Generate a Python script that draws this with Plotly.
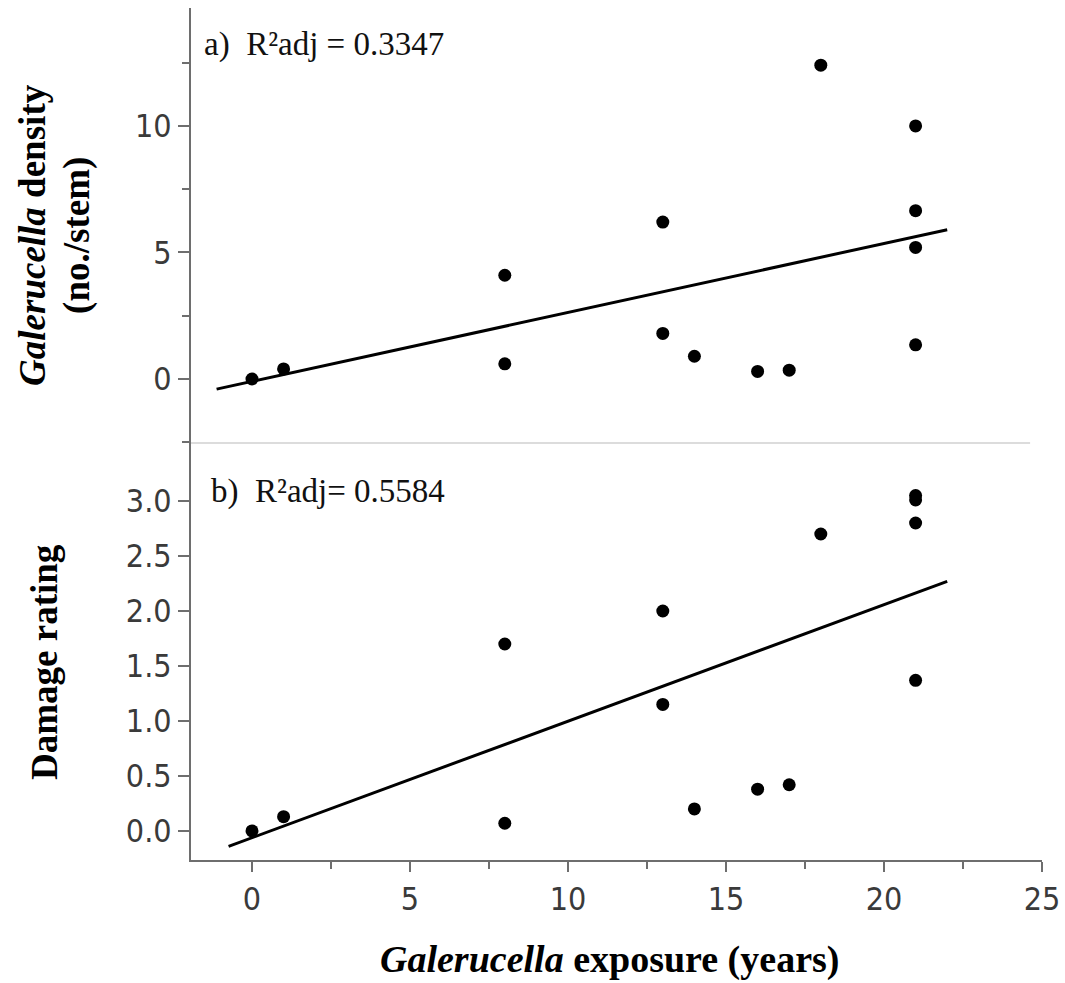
import plotly.graph_objects as go

# Data
exposure = [0, 1, 8, 8, 13, 13, 14, 16, 17, 18, 21, 21, 21, 21]
density = [0.0, 0.4, 4.1, 0.6, 6.2, 1.8, 0.9, 0.3, 0.35, 12.4, 10.0, 6.65, 5.2, 1.35]

exposure_b = [0, 1, 8, 8, 13, 13, 14, 16, 17, 18, 21, 21, 21, 21]
damage = [0.0, 0.13, 1.7, 0.07, 2.0, 1.15, 0.2, 0.38, 0.42, 2.7, 3.05, 3.01, 2.8, 1.37]

fit_a_x = [-1.12, 22.0]
fit_a_y = [-0.4, 5.9]
fit_b_x = [-0.74, 22.0]
fit_b_y = [-0.14, 2.27]

x_ticks = [0, 5, 10, 15, 20, 25]
ya_ticks = [0, 5, 10]
yb_ticks = [0.0, 0.5, 1.0, 1.5, 2.0, 2.5, 3.0]

SERIF = "Liberation Serif, Times New Roman, serif"
SANS = "DejaVu Sans Condensed, DejaVu Sans, sans-serif"
AXC = "#6e6e6e"

fig = go.Figure()
fig.add_trace(go.Scatter(x=exposure, y=density, mode="markers", xaxis="x", yaxis="y",
                         marker=dict(color="black", size=13), showlegend=False))
fig.add_trace(go.Scatter(x=fit_a_x, y=fit_a_y, mode="lines", xaxis="x", yaxis="y",
                         line=dict(color="black", width=3), showlegend=False))
fig.add_trace(go.Scatter(x=exposure_b, y=damage, mode="markers", xaxis="x", yaxis="y2",
                         marker=dict(color="black", size=13), showlegend=False))
fig.add_trace(go.Scatter(x=fit_b_x, y=fit_b_y, mode="lines", xaxis="x", yaxis="y2",
                         line=dict(color="black", width=3), showlegend=False))

tickfont = dict(family=SANS, size=32, color="#3a3a3a")

fig.update_layout(
    width=1065, height=983,
    margin=dict(l=191, r=23, t=8, b=123),
    paper_bgcolor="white", plot_bgcolor="white",
    xaxis=dict(domain=[0, 1], anchor="y2", range=[-1.93, 25], tickvals=x_ticks,
               automargin=False,
               showline=True, linecolor=AXC, linewidth=2, ticks="outside", ticklen=10,
               tickwidth=2, tickcolor=AXC, showgrid=False, zeroline=False,
               tickfont=tickfont,
               minor=dict(dtick=2.5, tick0=0, ticks="outside", ticklen=7, tickwidth=2,
                          tickcolor=AXC, showgrid=False)),
    yaxis=dict(domain=[0.4894, 1], anchor="x", range=[-2.53, 14.66], tickvals=ya_ticks,
               automargin=False,
               showline=True, linecolor=AXC, linewidth=2, ticks="outside", ticklen=11,
               tickwidth=2, tickcolor=AXC, showgrid=False, zeroline=False,
               tickfont=tickfont,
               minor=dict(dtick=2.5, tick0=0, ticks="outside", ticklen=7, tickwidth=2,
                          tickcolor=AXC, showgrid=False)),
    yaxis2=dict(domain=[0, 0.4894], anchor="x", range=[-0.264, 3.527], tickvals=yb_ticks,
                tickformat=".1f", automargin=False,
                showline=True, linecolor=AXC, linewidth=2, ticks="outside", ticklen=11,
                tickwidth=2, tickcolor=AXC, showgrid=False, zeroline=False,
                tickfont=tickfont),
)

# separator line between panels
fig.add_shape(type="line", xref="paper", yref="paper", x0=0, x1=0.986, y0=0.4894, y1=0.4894,
              line=dict(color="#dcdcdc", width=2))

fig.add_annotation(xref="paper", yref="paper", x=0.013, y=0.957, xanchor="left", yanchor="middle",
                   text="a)  R²adj = 0.3347", showarrow=False,
                   font=dict(family=SERIF, size=33, color="#111"))
fig.add_annotation(xref="paper", yref="paper", x=0.0215, y=0.432, xanchor="left", yanchor="middle",
                   text="b)  R²adj= 0.5584", showarrow=False,
                   font=dict(family=SERIF, size=33, color="#111"))

fig.add_annotation(xref="paper", yref="paper", x=-0.1857, y=0.7336, textangle=-90,
                   xanchor="center", yanchor="middle", showarrow=False,
                   text="<b><i>Galerucella</i> density</b>",
                   font=dict(family=SERIF, size=37, color="black"))
fig.add_annotation(xref="paper", yref="paper", x=-0.134, y=0.7336, textangle=-90,
                   xanchor="center", yanchor="middle", showarrow=False,
                   text="<b>(no./stem)</b>",
                   font=dict(family=SERIF, size=37, color="black"))
fig.add_annotation(xref="paper", yref="paper", x=-0.1716, y=0.2324, textangle=-90,
                   xanchor="center", yanchor="middle", showarrow=False,
                   text="<b>Damage rating</b>",
                   font=dict(family=SERIF, size=37, color="black"))
fig.add_annotation(xref="paper", yref="paper", x=0.492, y=-0.117,
                   xanchor="center", yanchor="middle", showarrow=False,
                   text="<b><i>Galerucella</i> exposure (years)</b>",
                   font=dict(family=SERIF, size=38, color="black"))

fig.write_html("out.html")
